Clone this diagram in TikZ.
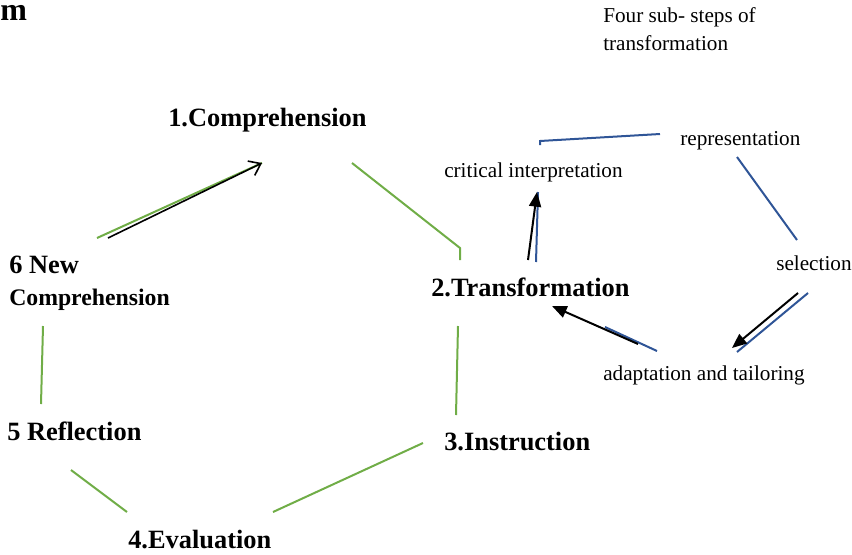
\documentclass[tikz,border=0pt]{standalone}
\usepackage{fontspec}
\setmainfont{Liberation Serif}
\usetikzlibrary{arrows.meta}
\definecolor{cyclegreen}{RGB}{112,173,71}
\definecolor{subblue}{RGB}{47,85,151}
\tikzset{
  stage/.style={anchor=base west, inner sep=0pt, font=\bfseries\fontsize{19.8}{22}\selectfont},
  substep/.style={anchor=base west, inner sep=0pt, font=\fontsize{15.9}{21}\selectfont},
  cycle/.style={cyclegreen, line width=1.5pt},
  subline/.style={subblue, line width=1.5pt},
  push/.style={black, line width=1.5pt, -{Triangle[length=11pt,width=9pt]}},
}
\begin{document}
\begin{tikzpicture}[x=0.75pt, y=-0.75pt]
\useasboundingbox (0,0) rectangle (852,554);

\node[stage, font=\bfseries\fontsize{24}{26}\selectfont] (title) at (0,20) {m};
\node[substep, anchor=north west, align=left] (note) at (603,7.5) {Four sub- steps of\\transformation};

\node[stage] (compr) at (168,126) {1.Comprehension};
\node[stage] (transf) at (431,296) {2.Transformation};
\node[stage] (instr) at (444,450) {3.Instruction};
\node[stage] (evalu) at (128,548) {4.Evaluation};
\node[stage] (refl) at (7,440) {5 Reflection};
\node[stage] (newa) at (9,273) {6 New};
\node[stage, font=\bfseries\fontsize{17.8}{20}\selectfont] (newb) at (9,305) {Comprehension};

\node[substep] (crit) at (444,177) {critical interpretation};
\node[substep] (repr) at (680,145) {representation};
\node[substep] (selec) at (776,270) {selection};
\node[substep] (adapt) at (603,380) {adaptation and tailoring};

\foreach \nm/\xy in {ga/{97,238}, gb/{262,163}, gc/{352,163}, gd/{460,248}, ge/{460,260},
  gf/{458,326}, gg/{456,415}, gh/{423,443}, gi/{273,512}, gj/{127,512}, gk/{71,470},
  gl/{41,404}, gm/{43,326}, ka/{108,238}}
  \coordinate (\nm) at (\xy);
\foreach \nm/\xy in {ba/{540,145}, bb/{540,141}, bc/{660,134}, bd/{737,157}, be/{797,240},
  bf/{808,293}, bg/{737,352}, bh/{657,351}, bi/{605,327}, bj/{536,262}, bk/{538,192},
  pa/{528,260}, pb/{537,192}, pc/{798,293}, pd/{732,348}, pe/{638,344}, pf/{552,306}}
  \coordinate (\nm) at (\xy);

\draw[cycle] (ga) -- (gb);
\draw[cycle] (gc) -- (gd) -- (ge);
\draw[cycle] (gf) -- (gg);
\draw[cycle] (gh) -- (gi);
\draw[cycle] (gj) -- (gk);
\draw[cycle] (gl) -- (gm);
\draw[black, line width=1.2pt, -{Straight Barb[length=8pt,width=12pt]}] (ka) -- (gb);

\draw[subline] (ba) -- (bb) -- (bc);
\draw[subline] (bd) -- (be);
\draw[subline] (bf) -- (bg);
\draw[subline] (bh) -- (bi);
\draw[subline] (bj) -- (bk);
\draw[push] (pa) -- (pb);
\draw[push] (pc) -- (pd);
\draw[push] (pe) -- (pf);
\end{tikzpicture}
\end{document}
